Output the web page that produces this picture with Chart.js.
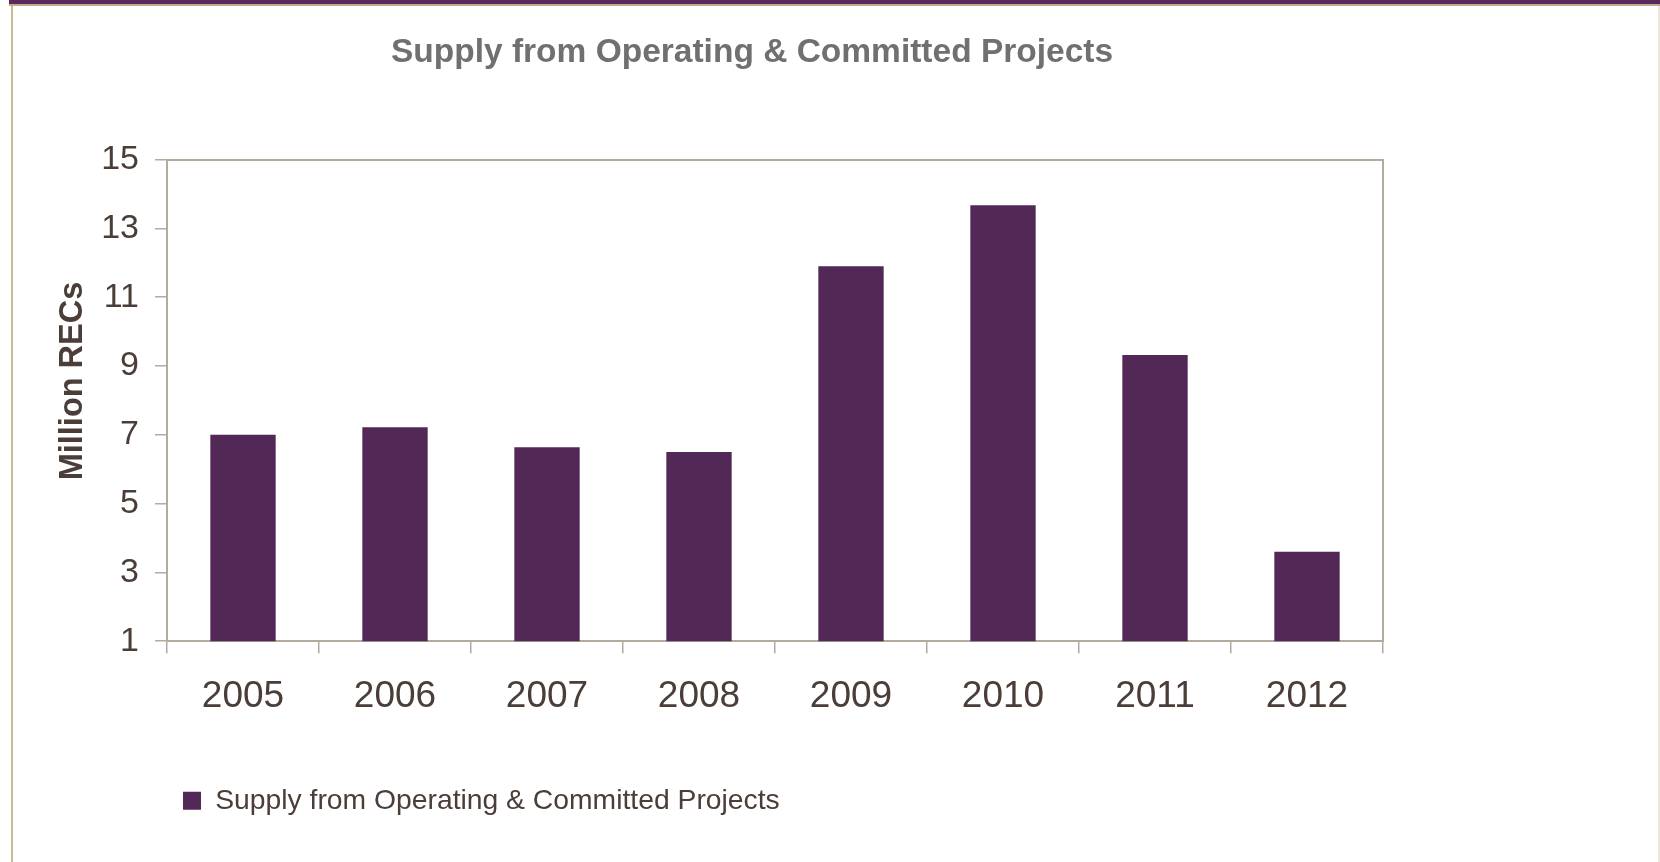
<!DOCTYPE html>
<html>
<head>
<meta charset="utf-8">
<script src="https://cdn.jsdelivr.net/npm/chart.js@4"></script>
<style>
  html, body { margin: 0; padding: 0; background: #fff; }
  #wrap { position: relative; width: 1660px; height: 862px; overflow: hidden; }
  .band { position: absolute; left: 9px; top: 0; width: 1651px; height: 4px; background: #58295c; }
  .rule { position: absolute; left: 9px; top: 4px; width: 1651px; height: 2px; background: #c2a98c; }
  .side { position: absolute; left: 11px; top: 6px; width: 2px; height: 856px; background: #cbb994; }
  .side-r { position: absolute; left: 1658px; top: 6px; width: 2px; height: 856px; background: #ece8e0; }
  canvas { position: absolute; left: 0; top: 0; }
</style>
</head>
<body>
<div id="wrap">
  <div class="band"></div>
  <div class="rule"></div>
  <div class="side"></div>
  <div class="side-r"></div>
  <canvas id="supplyChart" width="1660" height="862"></canvas>
</div>
<script>
const years = ["2005", "2006", "2007", "2008", "2009", "2010", "2011", "2012"];
const supply = [7.0, 7.22, 6.64, 6.5, 11.9, 13.67, 9.32, 3.6];
const seriesLabel = "Supply from Operating & Committed Projects";
const chartTitle = "Supply from Operating & Committed Projects";
const yAxisTitle = "Million RECs";
const yMin = 1;
const yMax = 15;
const yStep = 2;

const colors = {
  bar: "#522956",
  axis: "#b3ab9c",
  text: "#4b3d38",
  title: "#707070",
};
const FONT = "'Liberation Sans', Arial, sans-serif";

// y axis title sits a bit above the middle of the axis, so draw it by hand
const yTitlePlugin = {
  id: "yTitle",
  afterDraw(chart) {
    const ctx = chart.ctx;
    ctx.save();
    ctx.translate(73, 381);
    ctx.rotate(-Math.PI / 2);
    ctx.font = "bold 32.5px " + FONT;
    ctx.fillStyle = colors.text;
    ctx.textAlign = "center";
    ctx.textBaseline = "middle";
    ctx.fillText(yAxisTitle, 0, 0);
    ctx.restore();
  },
};

const ctx = document.getElementById("supplyChart").getContext("2d");
new Chart(ctx, {
  type: "bar",
  data: {
    labels: years,
    datasets: [
      {
        label: seriesLabel,
        data: supply,
        backgroundColor: colors.bar,
        borderWidth: 0,
        categoryPercentage: 1,
        barPercentage: 0.43,
      },
    ],
  },
  options: {
    responsive: false,
    animation: false,
    layout: { padding: { left: 0, right: 156, top: 0, bottom: 37 } },
    plugins: {
      title: {
        display: true,
        text: chartTitle,
        color: colors.title,
        font: { family: FONT, size: 33.5, weight: "bold" },
        padding: { top: 33, bottom: 0 },
      },
      legend: {
        position: "bottom",
        align: "start",
        fullSize: false,
        labels: {
          color: colors.text,
          font: { family: FONT, size: 28.3 },
          boxWidth: 18,
          boxHeight: 18,
          padding: 16,
        },
      },
      tooltip: { enabled: false },
    },
    scales: {
      x: {
        position: "bottom",
        grid: {
          display: true,
          offset: true,
          drawOnChartArea: false,
          drawTicks: true,
          tickLength: 12,
          color: colors.axis,
          lineWidth: 1.5,
        },
        border: { display: true, color: colors.axis, width: 2 },
        ticks: {
          color: colors.text,
          font: { family: FONT, size: 37 },
          padding: 21,
          maxRotation: 0,
        },
        afterFit(scale) {
          scale.height = 129.5;
        },
      },
      x2: {
        type: "category",
        labels: years,
        position: "top",
        grid: { display: false },
        ticks: { display: false },
        border: { display: true, color: colors.axis, width: 2 },
        afterFit(scale) {
          scale.height = 86.4;
        },
      },
      y: {
        min: yMin,
        max: yMax,
        grid: {
          display: true,
          drawOnChartArea: false,
          drawTicks: true,
          tickLength: 12,
          color: colors.axis,
          lineWidth: 1.5,
        },
        border: { display: true, color: colors.axis, width: 2 },
        ticks: {
          stepSize: yStep,
          color: colors.text,
          font: { family: FONT, size: 34 },
          padding: 16,
        },
        afterFit(scale) {
          scale.width = 167;
        },
      },
      y2: {
        type: "linear",
        position: "right",
        min: yMin,
        max: yMax,
        grid: { display: false },
        ticks: { display: false },
        border: { display: true, color: colors.axis, width: 2 },
        afterFit(scale) {
          scale.width = 121;
        },
      },
    },
  },
  plugins: [yTitlePlugin],
});
</script>
</body>
</html>
